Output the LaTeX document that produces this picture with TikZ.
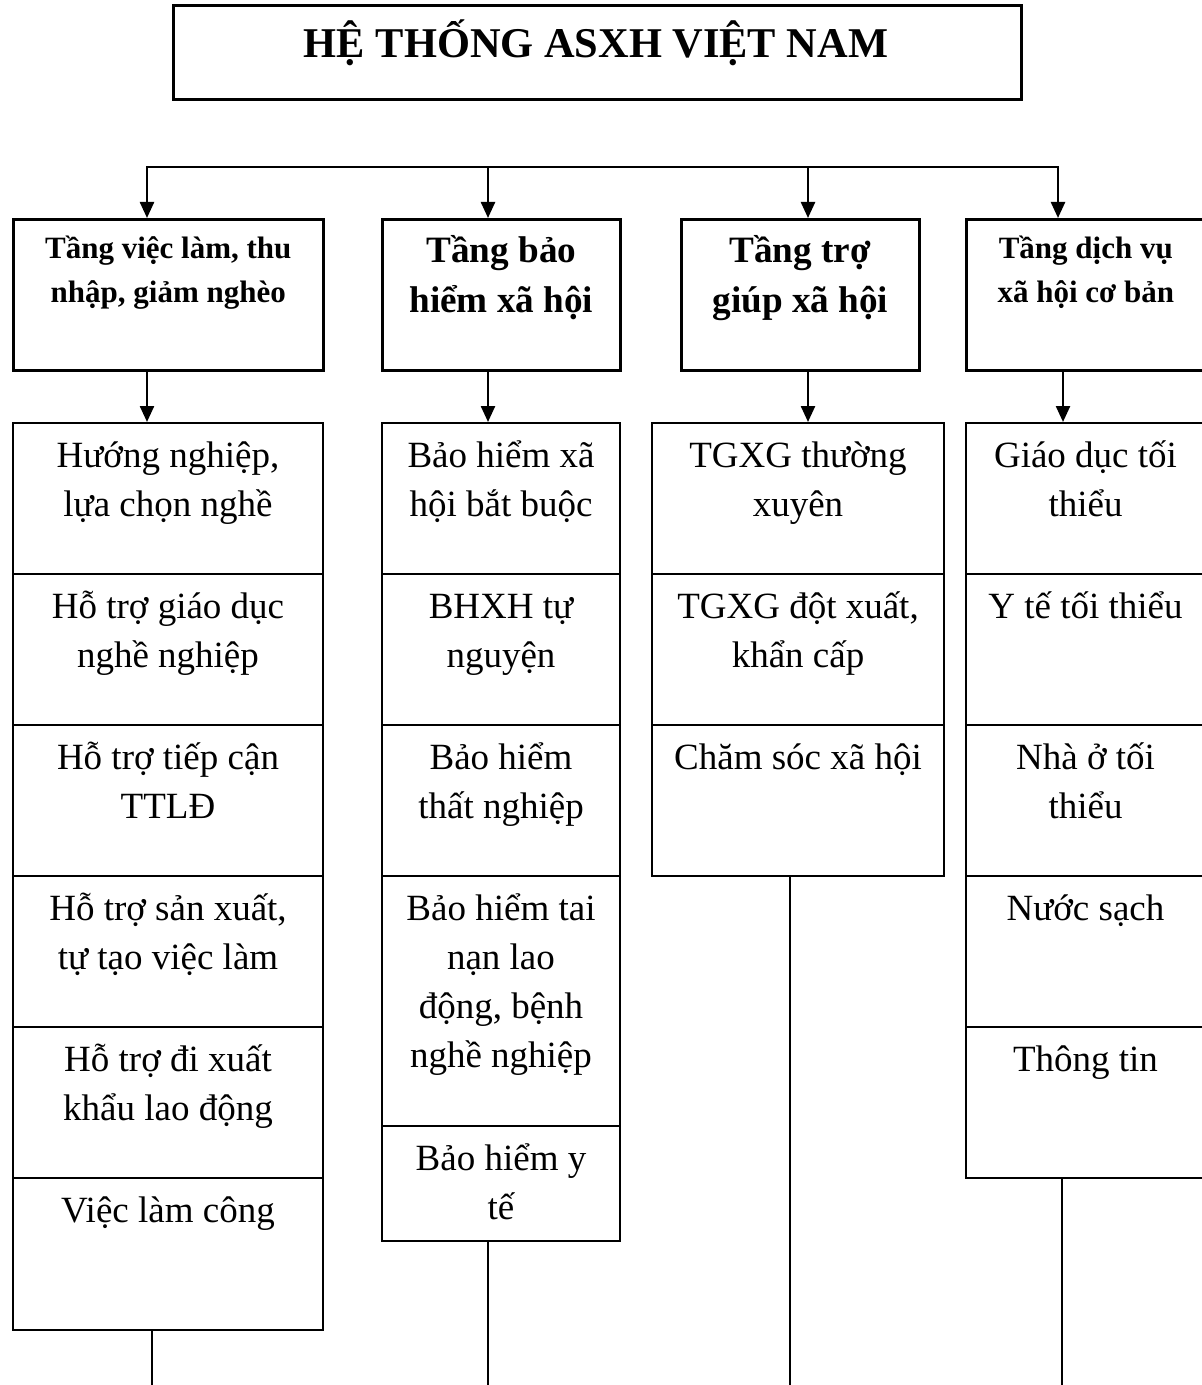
\documentclass[tikz,border=0pt]{standalone}
\usepackage{fontspec}
\setmainfont{Liberation Serif}
\usetikzlibrary{arrows.meta}

\begin{document}
\begin{tikzpicture}[x=0.5pt, y=-0.5pt,
    box/.style={draw, line width=1.3pt, inner sep=0pt, anchor=north west, minimum height=75.5pt},
    cell/.style={draw, line width=1pt, inner sep=0pt, anchor=north west, minimum height=75.5pt},
    hsmall/.style={font=\bfseries\fontsize{15.5}{22}\selectfont, align=center, anchor=north, inner sep=0pt},
    hbig/.style={font=\bfseries\fontsize{18.6}{25}\selectfont, align=center, anchor=north, inner sep=0pt},
    txt/.style={font=\fontsize{18.5}{24.5}\selectfont, align=center, anchor=north, inner sep=0pt},
    arr/.style={line width=1.2pt, -{Triangle[length=8pt, width=7pt]}},
    link/.style={line width=1pt}]
    \useasboundingbox (0,0) rectangle (1201,1385);
    % Title
    \node[draw, line width=1.3pt, inner sep=0pt, anchor=north west,
          minimum width=424pt, minimum height=47pt] (title) at (172,4) {};
    \node[font=\bfseries\fontsize{21.2}{26}\selectfont, anchor=base] (ttl) at (596,58)
        {HỆ THỐNG ASXH VIỆT NAM};
    % Layer headers
    \node[box, minimum width=155pt] (ha) at (12,218) {};
    \node[box, minimum width=119pt] (hb) at (381,218) {};
    \node[box, minimum width=119pt] (hc) at (680,218) {};
    \node[box, minimum width=119.5pt] (hd) at (965,218) {};
    \node[hsmall] (la) at ([yshift=-4.5pt]ha.north) {\strut Tầng việc làm, thu\\nhập, giảm nghèo};
    \node[hbig] (lb) at ([yshift=-4.5pt]hb.north) {\strut Tầng bảo\\hiểm xã hội};
    \node[hbig] (lc) at ([yshift=-4.5pt]hc.north) {\strut Tầng trợ\\giúp xã hội};
    \node[hsmall] (ld) at ([yshift=-4.5pt]hd.north) {\strut Tầng dịch vụ\\xã hội cơ bản};
    % Trunk and arrows to the layers
    \coordinate (ja) at (147,167);
    \coordinate (jb) at (488,167);
    \coordinate (jc) at (808,167);
    \coordinate (jd) at (1058,167);
    \draw[link, line width=1.2pt, line cap=rect] (ja) -- (jd);
    \foreach \j/\h in {ja/ha, jb/hb, jc/hc, jd/hd}
        \draw[arr] (\j) -- (\j |- \h.north);
    % Column 1
    \foreach \i/\y in {1/422, 2/573, 3/724, 4/875, 5/1026}
        \node[cell, minimum width=155pt] (a\i) at (12,\y) {};
    \node[cell, minimum width=155pt, minimum height=76pt] (a6) at (12,1177) {};
    \node[txt] (ta1) at ([yshift=-5.5pt]a1.north) {\strut Hướng nghiệp,\\lựa chọn nghề};
    \node[txt] (ta2) at ([yshift=-5.5pt]a2.north) {\strut Hỗ trợ giáo dục\\nghề nghiệp};
    \node[txt] (ta3) at ([yshift=-5.5pt]a3.north) {\strut Hỗ trợ tiếp cận\\TTLĐ};
    \node[txt] (ta4) at ([yshift=-5.5pt]a4.north) {\strut Hỗ trợ sản xuất,\\tự tạo việc làm};
    \node[txt] (ta5) at ([yshift=-5.5pt]a5.north) {\strut Hỗ trợ đi xuất\\khẩu lao động};
    \node[txt] (ta6) at ([yshift=-5.5pt]a6.north) {\strut Việc làm công};
    % Column 2
    \foreach \i/\y in {1/422, 2/573, 3/724}
        \node[cell, minimum width=119pt] (b\i) at (381,\y) {};
    \node[cell, minimum width=119pt, minimum height=125pt] (b4) at (381,875) {};
    \node[cell, minimum width=119pt, minimum height=57.5pt] (b5) at (381,1125) {};
    \node[txt] (tb1) at ([yshift=-5.5pt]b1.north) {\strut Bảo hiểm xã\\hội bắt buộc};
    \node[txt] (tb2) at ([yshift=-5.5pt]b2.north) {\strut BHXH tự\\nguyện};
    \node[txt] (tb3) at ([yshift=-5.5pt]b3.north) {\strut Bảo hiểm\\thất nghiệp};
    \node[txt] (tb4) at ([yshift=-5.5pt]b4.north) {\strut Bảo hiểm tai\\nạn lao\\động, bệnh\\nghề nghiệp};
    \node[txt] (tb5) at ([yshift=-5.5pt]b5.north) {\strut Bảo hiểm y\\tế};
    % Column 3
    \foreach \i/\y in {1/422, 2/573, 3/724}
        \node[cell, minimum width=146pt] (c\i) at (651,\y) {};
    \node[txt] (tc1) at ([yshift=-5.5pt]c1.north) {\strut TGXG thường\\xuyên};
    \node[txt] (tc2) at ([yshift=-5.5pt]c2.north) {\strut TGXG đột xuất,\\khẩn cấp};
    \node[txt] (tc3) at ([yshift=-5.5pt]c3.north) {\strut Chăm sóc xã hội};
    % Column 4
    \foreach \i/\y in {1/422, 2/573, 3/724, 4/875, 5/1026}
        \node[cell, minimum width=119.5pt] (d\i) at (965,\y) {};
    \node[txt] (td1) at ([yshift=-5.5pt]d1.north) {\strut Giáo dục tối\\thiểu};
    \node[txt] (td2) at ([yshift=-5.5pt]d2.north) {\strut Y tế tối thiểu};
    \node[txt] (td3) at ([yshift=-5.5pt]d3.north) {\strut Nhà ở tối\\thiểu};
    \node[txt] (td4) at ([yshift=-5.5pt]d4.north) {\strut Nước sạch};
    \node[txt] (td5) at ([yshift=-5.5pt]d5.north) {\strut Thông tin};
    % Arrows from layers to items
    \draw[arr] (ha.south -| ja) -- (a1.north -| ja);
    \draw[arr] (hb.south -| jb) -- (b1.north -| jb);
    \draw[arr] (hc.south -| jc) -- (c1.north -| jc);
    \coordinate (kd) at (1063,0);
    \draw[arr] (hd.south -| kd) -- (d1.north -| kd);
    % Lines running off the bottom
    \coordinate (ea) at (152,1400);
    \coordinate (eb) at (488,1400);
    \coordinate (ec) at (790,1400);
    \coordinate (ed) at (1062,1400);
    \draw[link] (a6.south -| ea) -- (ea);
    \draw[link] (b5.south -| eb) -- (eb);
    \draw[link] (c3.south -| ec) -- (ec);
    \draw[link] (d5.south -| ed) -- (ed);
\end{tikzpicture}
\end{document}
